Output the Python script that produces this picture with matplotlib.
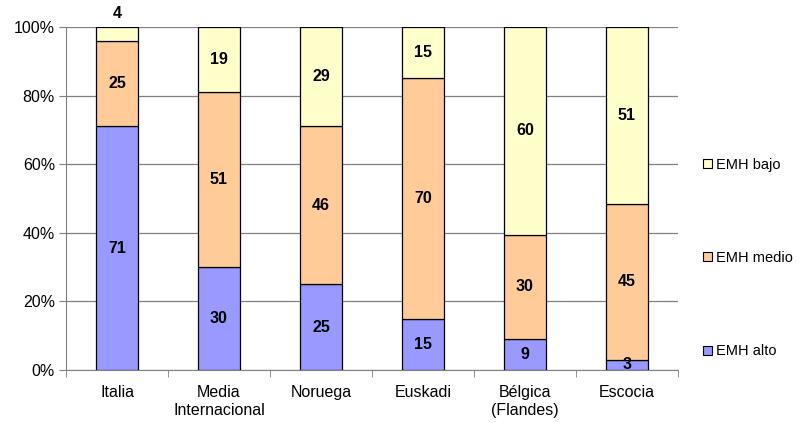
import matplotlib.pyplot as plt
from matplotlib.patches import Patch
import numpy as np

plt.rcParams['font.family'] = ['Liberation Sans', 'DejaVu Sans']

# data
categorias = ['Italia', 'Media\nInternacional', 'Noruega', 'Euskadi', 'Bélgica\n(Flandes)', 'Escocia']
emh_alto = [71, 30, 25, 15, 9, 3]
emh_medio = [25, 51, 46, 70, 30, 45]
emh_bajo = [4, 19, 29, 15, 60, 51]

series = [('EMH alto', emh_alto, '#9999FF'),
          ('EMH medio', emh_medio, '#FFCC99'),
          ('EMH bajo', emh_bajo, '#FFFFCC')]

fs = 11.5

fig = plt.figure(figsize=(7.99, 4.23), dpi=100)
ax = fig.add_axes([66 / 799, 53 / 423, 612 / 799, 343 / 423])

x = np.arange(len(categorias))
totales = np.array(emh_alto) + np.array(emh_medio) + np.array(emh_bajo)
base = np.zeros(len(categorias))
handles = []
for nombre, vals, color in series:
    pct = np.array(vals) / totales * 100
    ax.bar(x, pct, bottom=base, width=0.42, color=color, edgecolor='black', linewidth=0.9, zorder=3)
    for i, (v, p) in enumerate(zip(vals, pct)):
        y = base[i] + p / 2
        if p < 5 and nombre == 'EMH bajo':
            y = base[i] + p + 4   # small top segment: label above the bar
        ax.text(x[i], y, str(v), ha='center', va='center', fontsize=fs, fontweight='bold', zorder=4,
                clip_on=False)
    base += pct
    handles.append(Patch(facecolor=color, edgecolor='black', linewidth=0.8, label=nombre))

ax.set_xlim(-0.5, len(categorias) - 0.5)
ax.set_ylim(0, 100)
ax.set_yticks(range(0, 101, 20))
ax.set_yticklabels([f'{t}%' for t in range(0, 101, 20)], fontsize=fs)
ax.yaxis.grid(True, color='#808080', linewidth=0.9, zorder=0)
ax.set_axisbelow(True)

ax.set_xticks(x)
ax.set_xticklabels(categorias, fontsize=fs)
ax.tick_params(axis='x', length=0, pad=11)
ax.set_xticks(np.arange(-0.5, len(categorias)), minor=True)
ax.tick_params(axis='x', which='minor', length=5, color='#808080')
ax.tick_params(axis='y', length=5, color='#808080', pad=3)

for s in ['top', 'right']:
    ax.spines[s].set_visible(False)
ax.spines['left'].set_color('#808080')
ax.spines['bottom'].set_color('#808080')

fig.legend(handles=handles[::-1], loc='center left', bbox_to_anchor=(697 / 799, 1 - 258 / 423),
           frameon=False, fontsize=10.5, handlelength=0.6, handleheight=0.6, handletextpad=0.3,
           labelspacing=5.45, borderaxespad=0)

fig.savefig('out.png', dpi=100)
